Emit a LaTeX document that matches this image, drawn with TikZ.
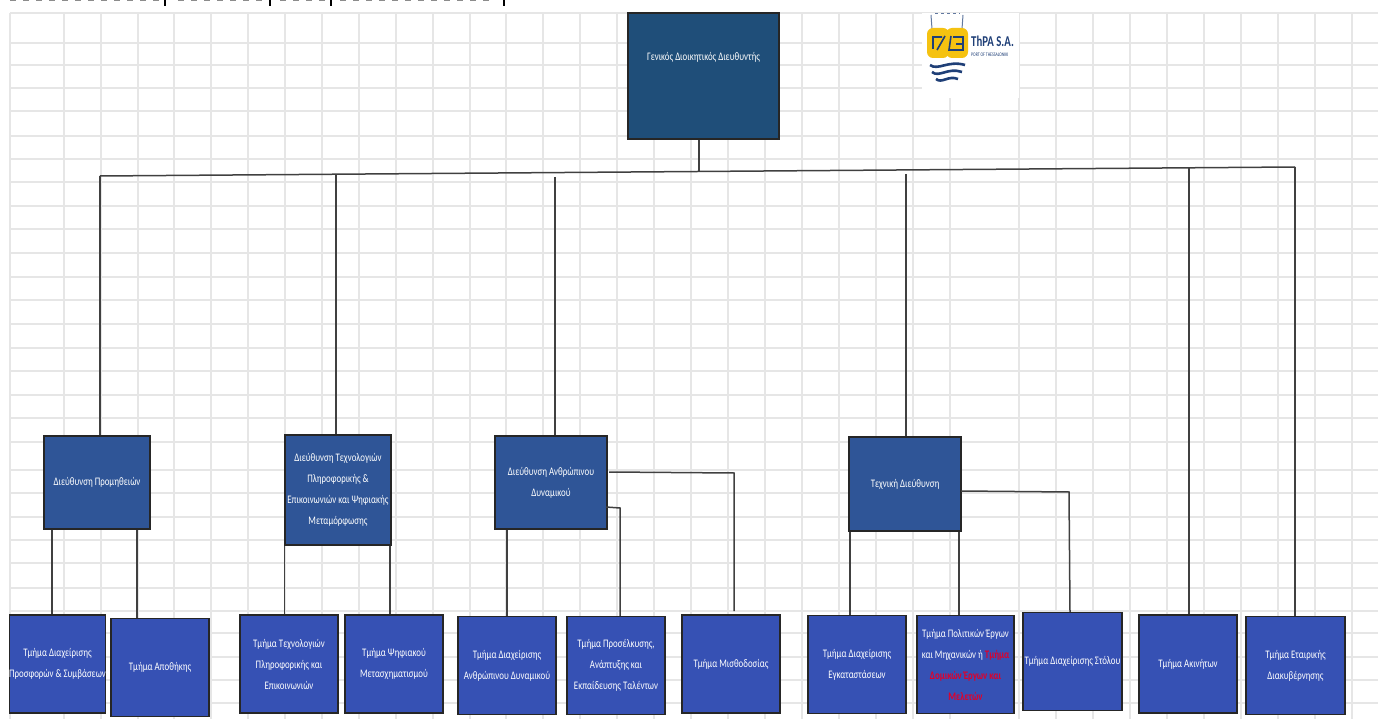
\documentclass[tikz,border=0pt]{standalone}
\usepackage{fontspec}
\setmainfont[FakeStretch=0.77]{Carlito}
\newfontfamily\logofont[FakeStretch=0.72]{Carlito}
\definecolor{gridgray}{HTML}{E6E6E6}
\definecolor{gmblue}{HTML}{1F4E79}
\definecolor{dirblue}{HTML}{2F5597}
\definecolor{deptblue}{HTML}{3651B4}
\definecolor{logoyellow}{HTML}{F5C211}
\definecolor{logoblue}{HTML}{1F3F77}
\definecolor{notered}{HTML}{E0002A}
\newcommand{\boxfont}{\fontsize{11.5}{21}\selectfont}
\begin{document}
\begin{tikzpicture}[x=1pt,y=-1pt]
    % Styles
    \tikzset{
        gmbox/.style={rectangle, draw=black!85, fill=gmblue, line width=1.2pt, minimum width=151pt, minimum height=126pt, inner sep=0pt},
        dirbox/.style={rectangle, draw=black!85, fill=dirblue, line width=1.2pt, text=white, align=center, inner sep=0pt, font=\boxfont},
        deptbox/.style={rectangle, draw=black!85, fill=deptblue, line width=1.2pt, text=white, align=center, inner sep=0pt, minimum width=98pt, minimum height=98pt, font=\boxfont},
        boxtext/.style={text=white, align=center, inner sep=0pt, font=\boxfont},
        conn/.style={draw=black!75, line width=1.5pt},
        gridline/.style={draw=gridgray, line width=1.3pt},
        wave/.style={draw=logoblue, line width=2.6pt}
    }
    \useasboundingbox (0,0) rectangle (1378,719);

    % Grid
    \foreach \xg in {10,64,101,138,174,211,248,285,322,359,396,433,470,506,543,580,617,654,691,728,765,802,839,876,913,950,1019,1056,1093,1130,1167,1204,1241,1278,1315,1352}
        \draw[gridline] (\xg,13) -- (\xg,719);
    \foreach \yg in {13,43,65,88,111,136,159,182,206,229,253,277,300,324,348,371,395,418,442,470,493,517,540,563,588,611,633,657,680,703}
        \draw[gridline] (10,\yg) -- (1378,\yg);

    % Cropped heading
    \draw[black!45, line width=1.4pt, dash pattern=on 6pt off 7pt] (10,0.7) -- (160,0.7);
    \draw[black!45, line width=1.4pt, dash pattern=on 6pt off 7pt] (178,0.7) -- (262,0.7);
    \draw[black!45, line width=1.4pt, dash pattern=on 6pt off 7pt] (280,0.7) -- (325,0.7);
    \draw[black!45, line width=1.4pt, dash pattern=on 6pt off 7pt] (340,0.7) -- (495,0.7);
    \foreach \xb in {165,270,331,504}
        \draw[black, line width=2pt] (\xb,0) -- (\xb,6);

    % Logo
    \fill[white] (922,13) rectangle (1019,98);
    \draw[logoblue!70, line width=1pt] (932,29) -- (931,15) (962,29) -- (963,15);
    \draw[logoblue!70, line width=1pt, dashed] (935,14) -- (960,14);
    \fill[logoyellow, rounded corners=6pt] (927,28) rectangle (949,58);
    \fill[logoyellow, rounded corners=6pt] (946,28) rectangle (968,58);
    \draw[logoblue, line width=1.6pt] (933,49) -- (933,37) -- (942,37) (937,50) -- (945,36);
    \draw[logoblue, line width=1.6pt] (951,36) -- (949,50) -- (963,50) -- (963,37) -- (953,37) (956,44) -- (963,44);
    \draw[wave] (930,65) .. controls (938,71) and (948,60) .. (965,65);
    \draw[wave] (932,72) .. controls (939,78) and (948,67) .. (962,72);
    \draw[wave] (936,79) .. controls (942,84) and (948,75) .. (958,79);
    \node[text=logoblue, inner sep=0pt, anchor=west, font=\logofont\bfseries\fontsize{15}{15}\selectfont] (logoname) at (971,41) {ThPA S.A.};
    \node[text=logoblue, inner sep=0pt, anchor=west, font=\logofont\fontsize{5.4}{6}\selectfont] (logoport) at (971,55) {PORT OF THESSALONIKI};

    % General manager
    \node[gmbox] (gm) at (703.5,76) {};
    \node[boxtext] (gmtext) at (703.5,57) {Γενικός Διοικητικός Διευθυντής};

    % Directorates
    \node[dirbox, minimum width=106pt, minimum height=93pt] (prom) at (97,482.5) {Διεύθυνση Προμηθειών};
    \node[dirbox, minimum width=106pt, minimum height=110pt] (tpe) at (338,490) {Διεύθυνση Τεχνολογιών\\Πληροφορικής \&\\Επικοινωνιών και Ψηφιακής\\Μεταμόρφωσης};
    \node[dirbox, minimum width=112pt, minimum height=93pt] (hr) at (551,482.5) {Διεύθυνση Ανθρώπινου\\Δυναμικού};
    \node[dirbox, minimum width=112pt, minimum height=94pt] (tech) at (905,484) {Τεχνική Διεύθυνση};

    % Departments
    \node[deptbox, minimum width=95pt] (prosf) at (57.5,664) {Τμήμα Διαχείρισης\\Προσφορών \& Συμβάσεων};
    \node[deptbox] (apoth) at (160,667.5) {Τμήμα Αποθήκης};
    \node[deptbox] (plir) at (289,664) {Τμήμα Τεχνολογιών\\Πληροφορικής και\\Επικοινωνιών};
    \node[deptbox] (psif) at (394,664) {Τμήμα Ψηφιακού\\Μετασχηματισμού};
    \node[deptbox] (anthr) at (507,665.5) {Τμήμα Διαχείρισης\\Ανθρώπινου Δυναμικού};
    \node[deptbox] (talent) at (616,665.5) {Τμήμα Προσέλκυσης,\\Ανάπτυξης και\\Εκπαίδευσης Ταλέντων};
    \node[deptbox] (misth) at (731,664) {Τμήμα Μισθοδοσίας};
    \node[deptbox] (egk) at (857,664.5) {Τμήμα Διαχείρισης\\Εγκαταστάσεων};
    \node[deptbox, minimum width=97pt] (erga) at (965.5,664.5) {Τμήμα Πολιτικών Έργων\\και Μηχανικών ή \textcolor{notered}{\bfseries Τμήμα}\\\textcolor{notered}{\bfseries Δομικών Έργων και}\\\textcolor{notered}{\bfseries Μελετών}};
    \node[deptbox, minimum width=99pt] (stol) at (1072.5,661.5) {Τμήμα Διαχείρισης Στόλου};
    \node[deptbox] (akin) at (1188,664) {Τμήμα Ακινήτων};
    \node[deptbox, minimum width=99pt] (etair) at (1295.5,665.5) {Τμήμα Εταιρικής\\Διακυβέρνησης};

    % Top bus
    \coordinate (busl) at (100,176);
    \coordinate (busr) at (1295,167);
    \coordinate (busgm) at (699,171.5);
    \coordinate (bustpe) at (336,174.5);
    \coordinate (bushr) at (555,177);
    \coordinate (bustech) at (906,174);
    \coordinate (busakin) at (1189,168);
    \draw[conn] (busl) -- (busr);
    \draw[conn] (busgm |- gm.south) -- (busgm);
    \draw[conn] (busl) -- (busl |- prom.north);
    \draw[conn] (bustpe) -- (bustpe |- tpe.north);
    \draw[conn] (bushr) -- (bushr |- hr.north);
    \draw[conn] (bustech) -- (bustech |- tech.north);
    \draw[conn] (busakin) -- (busakin |- akin.north);
    \draw[conn] (busr) -- (busr |- etair.north);

    % Departments under directorates
    \draw[conn] (52,0 |- prom.south) -- (52,0 |- prosf.north);
    \draw[conn] (137,0 |- prom.south) -- (137,0 |- apoth.north);
    \draw[conn] (tpe.south west) -- (tpe.south west |- plir.north);
    \draw[conn] (390,0 |- tpe.south) -- (390,0 |- psif.north);
    \draw[conn] (507,0 |- hr.south) -- (507,0 |- anthr.north);
    \draw[conn] (606,507) -- (620,508) -- (620,0 |- talent.north);
    \coordinate (misthend) at (734,611);
    \draw[conn] (609,472) -- (734,473) -- (misthend);
    \draw[conn] (850,0 |- tech.south) -- (850,0 |- egk.north);
    \draw[conn] (959,0 |- tech.south) -- (959,0 |- erga.north);
    \draw[conn] (961,491) -- (1069,492) -- (1070,0 |- stol.north);
\end{tikzpicture}
\end{document}
